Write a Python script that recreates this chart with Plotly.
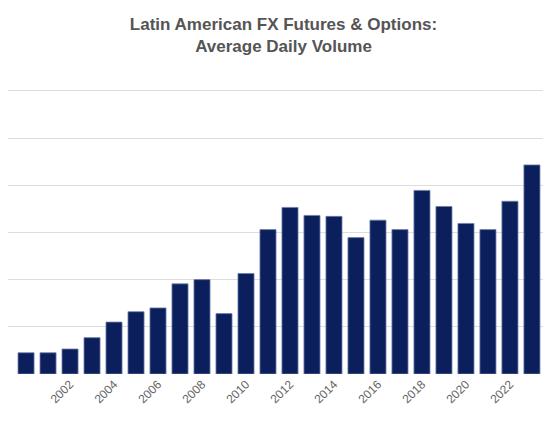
import plotly.graph_objects as go

years = list(range(2000, 2025))
volume = [0.45, 0.45, 0.53, 0.77, 1.10, 1.32, 1.40, 1.91, 2.00, 1.28, 2.13, 3.06, 3.53, 3.36,
          3.34, 2.89, 3.26, 3.06, 3.89, 3.55, 3.19, 3.06, 3.66, 4.43, 4.98]
tick_years = list(range(2000, 2025, 2))

fig = go.Figure(go.Bar(x=years, y=volume, marker=dict(color="#0b1f5c", line=dict(color="#6f7fa8", width=0.8)),
                       cliponaxis=True))
fig.update_layout(
    width=551, height=431, margin=dict(l=0, r=0, t=80, b=65, autoexpand=False),
    paper_bgcolor="white", plot_bgcolor="white", bargap=0.27, showlegend=False,
    title=dict(text="<b>Latin American FX Futures & Options:<br>Average Daily Volume</b>",
               x=0.5, xanchor="center", y=0.95, yanchor="top",
               font=dict(family="Liberation Sans, Arial", size=17, color="#555555")),
    xaxis=dict(range=[1999.18, 2024.23], tickvals=tick_years, ticktext=[str(y) for y in tick_years],
               tickangle=-45, showgrid=False, showline=False, ticks="", automargin=False,
               tickfont=dict(family="Liberation Sans, Arial", size=12, color="#666666")),
    yaxis=dict(range=[0, 6.06], tickvals=[1, 2, 3, 4, 5, 6], showticklabels=False, gridcolor="#dddddd",
               zeroline=False, ticks="", automargin=False),
)
fig.write_html("out.html")
